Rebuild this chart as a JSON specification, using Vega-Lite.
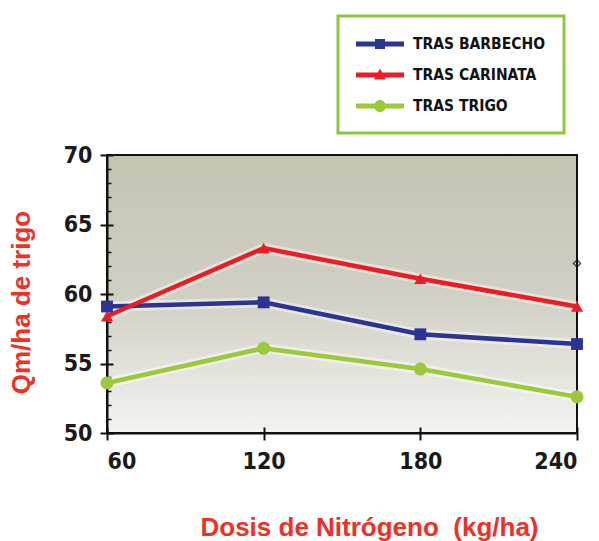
{
  "$schema": "https://vega.github.io/schema/vega-lite/v6.json",
  "width": 470,
  "height": 278,
  "autosize": {"type": "none"},
  "padding": {"left": 107, "top": 155, "right": 22, "bottom": 108},
  "background": "white",
  "config": {
    "view": {
      "stroke": "#111111",
      "strokeWidth": 2,
      "fill": {
        "gradient": "linear", "x1": 0, "y1": 0, "x2": 0, "y2": 1,
        "stops": [
          {"offset": 0, "color": "#c4c3b2"},
          {"offset": 0.5, "color": "#d0cfc4"},
          {"offset": 1, "color": "#f3f3f1"}
        ]
      }
    },
    "axis": {
      "grid": false,
      "domainColor": "#111111",
      "domainWidth": 2,
      "tickColor": "#111111",
      "tickWidth": 2,
      "tickSize": 7,
      "labelFont": "Liberation Sans Narrow, DejaVu Sans Condensed, sans-serif",
      "labelFontWeight": "bold",
      "labelFontSize": 23,
      "labelColor": "#1a1a1a",
      "titleFont": "Liberation Sans, Arial, sans-serif",
      "titleFontWeight": "bold",
      "titleFontSize": 26,
      "titleColor": "#ee3124"
    }
  },
  "resolve": {"axis": {"x": "independent", "y": "independent"}},
  "data": {
    "values": [
      {"dosis": 60, "qm": 59.1, "serie": "TRAS BARBECHO"},
      {"dosis": 120, "qm": 59.4, "serie": "TRAS BARBECHO"},
      {"dosis": 180, "qm": 57.1, "serie": "TRAS BARBECHO"},
      {"dosis": 240, "qm": 56.4, "serie": "TRAS BARBECHO"},
      {"dosis": 60, "qm": 58.4, "serie": "TRAS CARINATA"},
      {"dosis": 120, "qm": 63.3, "serie": "TRAS CARINATA"},
      {"dosis": 180, "qm": 61.1, "serie": "TRAS CARINATA"},
      {"dosis": 240, "qm": 59.1, "serie": "TRAS CARINATA"},
      {"dosis": 60, "qm": 53.6, "serie": "TRAS TRIGO"},
      {"dosis": 120, "qm": 56.1, "serie": "TRAS TRIGO"},
      {"dosis": 180, "qm": 54.6, "serie": "TRAS TRIGO"},
      {"dosis": 240, "qm": 52.6, "serie": "TRAS TRIGO"}
    ]
  },
  "layer": [
    {
      "mark": {"type": "line", "strokeWidth": 10, "color": "white", "opacity": 0.45},
      "encoding": {
        "x": {
          "field": "dosis", "type": "quantitative",
          "scale": {"domain": [60, 240], "nice": false},
          "axis": {
            "orient": "bottom",
            "values": [60, 120, 180, 240],
            "labelPadding": 10,
            "title": "Dosis de Nitrógeno \u00a0(kg/ha)",
            "titleBaseline": "middle",
            "titleAnchor": "middle",
            "titleX": 262,
            "titleY": 94
          }
        },
        "y": {
          "field": "qm", "type": "quantitative",
          "scale": {"domain": [50, 70], "nice": false, "zero": false},
          "axis": {
            "orient": "left",
            "values": [50, 55, 60, 65, 70],
            "labelPadding": 8,
            "title": "Qm/ha de trigo",
            "titleBaseline": "middle",
            "titleX": -86,
            "titleY": 147,
            "titleAlign": "center"
          }
        },
        "detail": {"field": "serie", "type": "nominal"}
      }
    },
    {
      "mark": {"type": "line", "strokeWidth": 4.5},
      "encoding": {
        "x": {
          "field": "dosis", "type": "quantitative",
          "scale": {"domain": [60, 240], "nice": false},
          "axis": {"orient": "bottom", "values": [60, 120, 180, 240], "domain": false, "labels": false, "title": null, "tickSize": 6, "offset": -6}
        },
        "y": {
          "field": "qm", "type": "quantitative",
          "scale": {"domain": [50, 70], "nice": false, "zero": false},
          "axis": {"orient": "left", "values": [50, 55, 60, 65, 70], "domain": false, "labels": false, "title": null, "tickSize": 6, "offset": -6}
        },
        "color": {
          "field": "serie", "type": "nominal",
          "scale": {
            "domain": ["TRAS BARBECHO", "TRAS CARINATA", "TRAS TRIGO"],
            "range": ["#2b3393", "#ed1c24", "#9cc93b"]
          },
          "legend": {
            "title": null,
            "orient": "none",
            "legendX": 231,
            "legendY": -139,
            "direction": "vertical",
            "padding": 18,
            "fillColor": "white",
            "strokeColor": "#8dc63f",
            "symbolSize": 400,
            "rowPadding": 12,
            "labelOffset": 37,
            "labelFont": "Liberation Sans Narrow, DejaVu Sans Condensed, sans-serif",
            "labelFontWeight": "bold",
            "labelFontSize": 15.5,
            "labelColor": "#111111",
            "encode": {
              "legend": {"update": {"strokeWidth": {"value": 3}}},
              "symbols": {
                "update": {
                  "shape": {"signal": "datum.value === 'TRAS BARBECHO' ? 'M-1,-0.25H3.8V0.25H-1Z M0.9,-0.5H1.9V0.5H0.9Z' : datum.value === 'TRAS CARINATA' ? 'M-1,-0.25H3.8V0.25H-1Z M1.4,-0.65L2.0,0.45H0.8Z' : 'M-1,-0.25H3.8V0.25H-1Z M0.8,0A0.6,0.6 0 1,1 2.0,0A0.6,0.6 0 1,1 0.8,0Z'"},
                  "fill": {"scale": "color", "field": "value"},
                  "strokeWidth": {"value": 0}
                }
              }
            }
          }
        }
      }
    },
    {
      "transform": [{"filter": "datum.serie === 'TRAS BARBECHO'"}],
      "mark": {"type": "point", "shape": "square", "filled": true, "opacity": 1, "size": 140, "color": "#2b3393"},
      "encoding": {
        "x": {"field": "dosis", "type": "quantitative", "scale": {"domain": [60, 240], "nice": false}, "axis": null},
        "y": {
          "field": "qm", "type": "quantitative",
          "scale": {"domain": [50, 70], "nice": false, "zero": false},
          "axis": {"orient": "left", "values": [51, 52, 53, 54, 56, 57, 58, 59, 61, 62, 63, 64, 66, 67, 68, 69], "domain": false, "labels": false, "title": null, "tickSize": 4, "offset": -4, "tickWidth": 1.5}
        }
      }
    },
    {
      "transform": [{"filter": "datum.serie === 'TRAS CARINATA'"}],
      "mark": {"type": "point", "shape": "triangle-up", "filled": true, "opacity": 1, "size": 150, "color": "#ed1c24"},
      "encoding": {
        "x": {"field": "dosis", "type": "quantitative", "scale": {"domain": [60, 240], "nice": false}, "axis": null},
        "y": {"field": "qm", "type": "quantitative", "scale": {"domain": [50, 70], "nice": false, "zero": false}, "axis": null}
      }
    },
    {
      "transform": [{"filter": "datum.serie === 'TRAS TRIGO'"}],
      "mark": {"type": "point", "shape": "circle", "filled": true, "opacity": 1, "size": 170, "color": "#9cc93b"},
      "encoding": {
        "x": {"field": "dosis", "type": "quantitative", "scale": {"domain": [60, 240], "nice": false}, "axis": null},
        "y": {"field": "qm", "type": "quantitative", "scale": {"domain": [50, 70], "nice": false, "zero": false}, "axis": null}
      }
    },
    {
      "data": {"values": [{"dosis": 240, "qm": 62.2}]},
      "mark": {"type": "point", "shape": "diamond", "filled": false, "stroke": "#111111", "strokeWidth": 1.5, "size": 50},
      "encoding": {
        "x": {"field": "dosis", "type": "quantitative", "scale": {"domain": [60, 240], "nice": false}, "axis": null},
        "y": {"field": "qm", "type": "quantitative", "scale": {"domain": [50, 70], "nice": false, "zero": false}, "axis": null}
      }
    }
  ]
}
